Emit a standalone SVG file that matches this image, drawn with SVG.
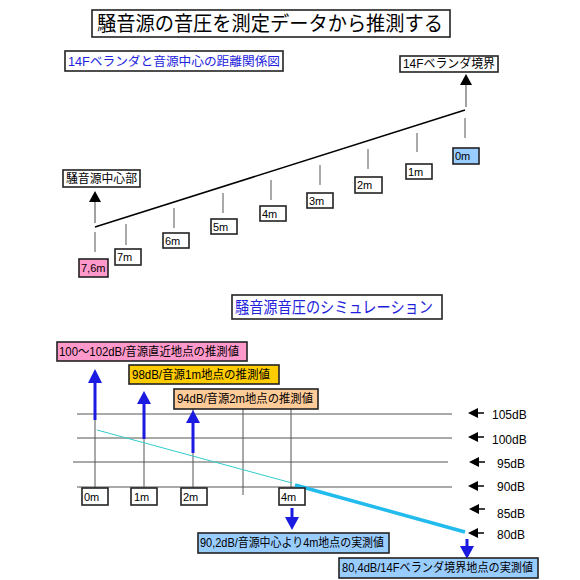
<svg xmlns="http://www.w3.org/2000/svg" width="580" height="580" viewBox="0 0 580 580">
<defs>
<style>
text{font-family:"Liberation Sans","Noto Sans CJK JP",sans-serif;fill:#000}
.box{fill:#fff;stroke:#222;stroke-width:1.6}
.t11{font-size:11px}
.t12{font-size:12px}
.blue{fill:#2222dd}
.tick{stroke:#555;stroke-width:1}
.grid{stroke:#555;stroke-width:1}
.blk{stroke:#000;stroke-width:1.5;fill:none}
.barrow{stroke:#1a1ae0;stroke-width:3;fill:none}
</style>
</defs>
<g id="title"><rect class="box" x="92" y="10" width="358" height="27"/><text x="97" y="31" font-size="20" textLength="346" lengthAdjust="spacingAndGlyphs">騒音源の音圧を測定データから推測する</text></g>
<g id="subtitle1"><rect class="box" x="65" y="51" width="218" height="20"/><text class="blue" x="68" y="66" font-size="12.5" textLength="212" lengthAdjust="spacingAndGlyphs">14Fベランダと音源中心の距離関係図</text></g>
<g id="connectors">
<line class="blk" x1="95" y1="227" x2="465" y2="110"/>
<line x1="95" y1="200" x2="95" y2="223" stroke="#444" stroke-width="1"/>
<polygon points="95,191 89,202 101,202" fill="#000"/>
<line x1="466" y1="83" x2="466" y2="107" stroke="#444" stroke-width="1"/>
<polygon points="466,74 460,85 472,85" fill="#000"/>
<line class="tick" x1="95" y1="232" x2="95" y2="252"/>
<line class="tick" x1="126" y1="224" x2="126" y2="245"/>
<line class="tick" x1="174" y1="208" x2="174" y2="228"/>
<line class="tick" x1="223" y1="193" x2="223" y2="213"/>
<line class="tick" x1="271" y1="180" x2="271" y2="200"/>
<line class="tick" x1="320" y1="165" x2="320" y2="185"/>
<line class="tick" x1="368" y1="149" x2="368" y2="169"/>
<line class="tick" x1="417" y1="133" x2="417" y2="152"/>
<line class="tick" x1="465" y1="118" x2="465" y2="138"/>
</g>
<g id="border14F"><rect class="box" x="400" y="56" width="98" height="16"/><text class="t12" x="403" y="68" textLength="92" lengthAdjust="spacingAndGlyphs">14Fベランダ境界</text></g>
<g id="center"><rect class="box" x="63" y="170" width="77" height="17"/><text class="t12" x="66" y="183" textLength="71" lengthAdjust="spacingAndGlyphs">騒音源中心部</text></g>
<g id="m76"><rect class="box" x="79" y="259" width="29" height="18" fill="#ff99cc" style="fill:#ff99cc"/><text class="t11" x="81" y="272">7,6m</text></g>
<g id="m7"><rect class="box" x="115" y="249" width="26" height="16"/><text class="t11" x="117" y="261">7m</text></g>
<g id="m6"><rect class="box" x="163" y="233" width="26" height="15"/><text class="t11" x="165" y="245">6m</text></g>
<g id="m5"><rect class="box" x="211" y="219" width="26" height="15"/><text class="t11" x="213" y="231">5m</text></g>
<g id="m4"><rect class="box" x="260" y="206" width="26" height="15"/><text class="t11" x="262" y="218">4m</text></g>
<g id="m3"><rect class="box" x="307" y="193" width="26" height="15"/><text class="t11" x="309" y="205">3m</text></g>
<g id="m2"><rect class="box" x="355" y="177" width="27" height="16"/><text class="t11" x="357" y="189">2m</text></g>
<g id="m1"><rect class="box" x="406" y="164" width="26" height="15"/><text class="t11" x="408" y="176">1m</text></g>
<g id="m0"><rect class="box" x="453" y="148" width="26" height="16" style="fill:#99ccff"/><text class="t11" x="455" y="160">0m</text></g>

<g id="subtitle2"><rect class="box" x="232" y="295" width="210" height="24"/><text class="blue" x="235" y="313" font-size="16" textLength="198" lengthAdjust="spacingAndGlyphs">騒音源音圧のシミュレーション</text></g>

<g id="grid">
<line class="grid" x1="77" y1="414" x2="452" y2="414"/>
<line class="grid" x1="77" y1="438" x2="452" y2="438"/>
<line class="grid" x1="73" y1="462" x2="448" y2="462"/>
<line class="grid" x1="77" y1="487" x2="452" y2="487"/>
<line class="grid" x1="95" y1="414" x2="95" y2="488"/>
<line class="grid" x1="144" y1="414" x2="144" y2="488"/>
<line class="grid" x1="193" y1="409" x2="193" y2="488"/>
<line class="grid" x1="243" y1="409" x2="243" y2="495"/>
<line class="grid" x1="291" y1="409" x2="291" y2="488"/>
</g>
<g id="sim-connectors">
<line x1="97" y1="430" x2="292" y2="483" stroke="#33cccc" stroke-width="1"/>
<line x1="295" y1="485" x2="465" y2="532" stroke="#22bbee" stroke-width="3.5"/>
<line class="barrow" x1="95" y1="381" x2="95" y2="420"/>
<polygon points="95,369 88,383 102,383" fill="#1a1ae0"/>
<line class="barrow" x1="144" y1="401" x2="144" y2="439"/>
<polygon points="144,391 137,404 151,404" fill="#1a1ae0"/>
<line class="barrow" x1="193" y1="421" x2="193" y2="453"/>
<polygon points="193,410 186,423 200,423" fill="#1a1ae0"/>
<line class="barrow" x1="292" y1="508" x2="292" y2="519"/>
<polygon points="292,530 285,517 299,517" fill="#1a1ae0"/>
<line class="barrow" x1="467" y1="539" x2="467" y2="548"/>
<polygon points="467,559 460,546 474,546" fill="#1a1ae0"/>
<g fill="#000">
<polygon points="468,413 478,408 478,418"/><line x1="477" y1="413" x2="484" y2="413" stroke="#000" stroke-width="1.5"/>
<polygon points="468,437 478,432 478,442"/><line x1="477" y1="437" x2="484" y2="437" stroke="#000" stroke-width="1.5"/>
<polygon points="469,462 479,457 479,467"/><line x1="478" y1="462" x2="485" y2="462" stroke="#000" stroke-width="1.5"/>
<polygon points="468,486 478,481 478,491"/><line x1="477" y1="486" x2="484" y2="486" stroke="#000" stroke-width="1.5"/>
<polygon points="469,509 479,504 479,514"/><line x1="478" y1="509" x2="485" y2="509" stroke="#000" stroke-width="1.5"/>
<polygon points="468,533 478,528 478,538"/><line x1="477" y1="533" x2="484" y2="533" stroke="#000" stroke-width="1.5"/>
</g>
</g>
<g id="db-labels" class="t12">
<text x="492" y="419">105dB</text>
<text x="492" y="444">100dB</text>
<text x="497" y="468">95dB</text>
<text x="497" y="491">90dB</text>
<text x="497" y="518">85dB</text>
<text x="497" y="539">80dB</text>
</g>
<g id="est100"><rect class="box" x="57" y="342" width="190" height="19" style="fill:#ff99cc"/><text class="t12" x="59" y="356" textLength="180" lengthAdjust="spacingAndGlyphs">100〜102dB/音源直近地点の推測値</text></g>
<g id="est98"><rect class="box" x="129" y="365" width="150" height="19" style="fill:#ffcc00"/><text class="t12" x="132" y="379" textLength="138" lengthAdjust="spacingAndGlyphs">98dB/音源1m地点の推測値</text></g>
<g id="est94"><rect class="box" x="174" y="389" width="144" height="20" style="fill:#ffcc99"/><text class="t12" x="177" y="403" textLength="136" lengthAdjust="spacingAndGlyphs">94dB/音源2m地点の推測値</text></g>
<g id="s0"><rect class="box" x="82" y="488" width="26" height="17"/><text class="t11" x="84" y="501">0m</text></g>
<g id="s1"><rect class="box" x="131" y="488" width="26" height="17"/><text class="t11" x="134" y="501">1m</text></g>
<g id="s2"><rect class="box" x="181" y="488" width="26" height="17"/><text class="t11" x="183" y="501">2m</text></g>
<g id="s4"><rect class="box" x="279" y="488" width="26" height="17"/><text class="t11" x="281" y="501">4m</text></g>
<g id="meas90"><rect class="box" x="198" y="533" width="191" height="20" style="fill:#99ccff"/><text class="t12" x="200" y="547" textLength="184" lengthAdjust="spacingAndGlyphs">90,2dB/音源中心より4m地点の実測値</text></g>
<g id="meas80"><rect class="box" x="339" y="558" width="199" height="20" style="fill:#99ccff"/><text class="t12" x="342" y="572" textLength="191" lengthAdjust="spacingAndGlyphs">80,4dB/14Fベランダ境界地点の実測値</text></g>
</svg>
